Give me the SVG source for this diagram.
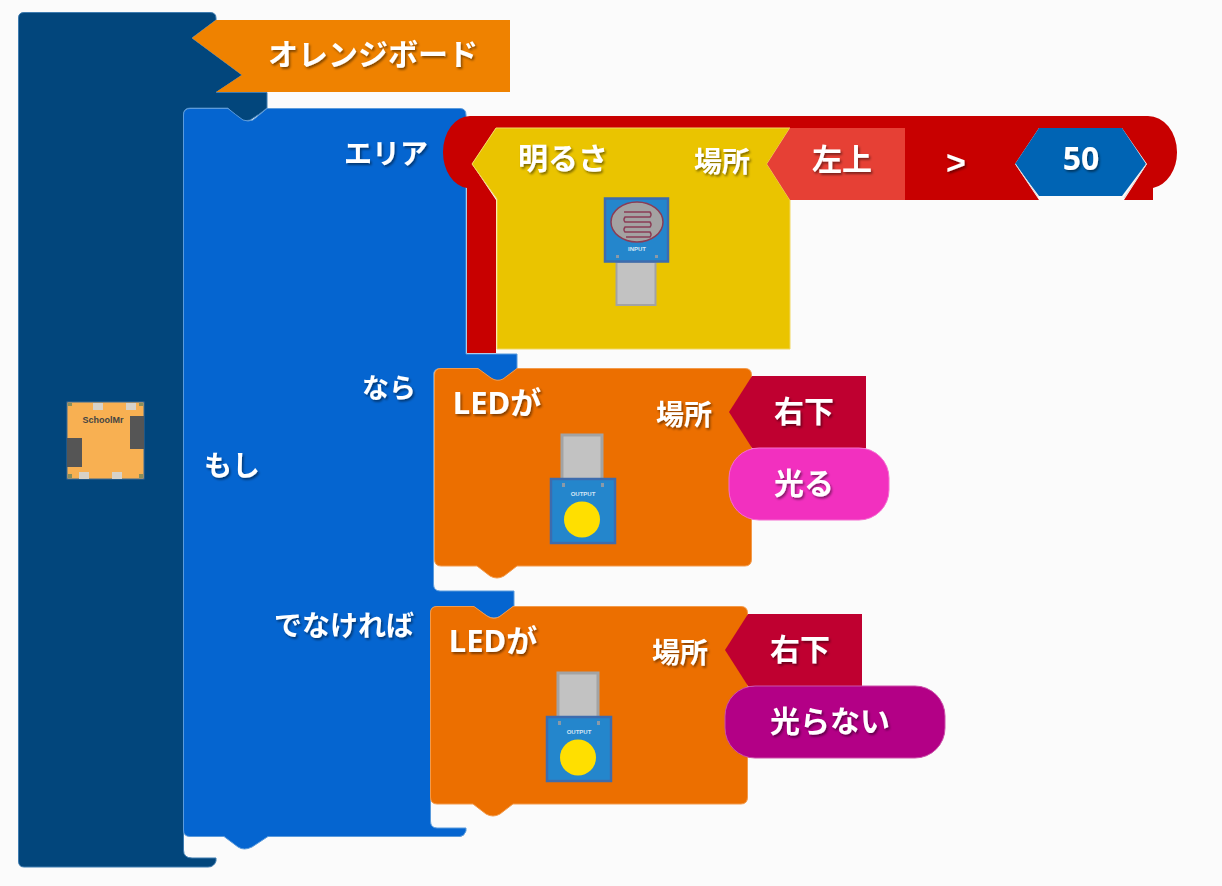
<svg xmlns="http://www.w3.org/2000/svg" width="1222" height="886" viewBox="0 0 1222 886">
<defs>
<filter id="ts" x="-20%" y="-20%" width="140%" height="150%"><feDropShadow dx="1.5" dy="2" stdDeviation="1" flood-color="#000" flood-opacity="0.45"/></filter>
<g id="led">
<rect x="13" y="2" width="40" height="45" fill="#c2c2c2" stroke="#a3a3a3" stroke-width="3"/>
<rect x="2" y="46" width="64" height="64" fill="#2486cc" stroke="#3d6cae" stroke-width="2.500"/>
<rect x="13" y="50" width="3" height="4" fill="#8a9aa8"/><rect x="52" y="50" width="3" height="4" fill="#8a9aa8"/>
<text x="34" y="63" class="tiny">OUTPUT</text>
<circle cx="33" cy="86.500" r="18" fill="#ffdf00"/>
</g>
</defs>
<style>
text{font-family:"Noto Sans","Noto Sans CJK JP",sans-serif;font-weight:700;fill:#fff;filter:url(#ts);text-anchor:middle}
.l{font-size:30px}.m{font-size:28px}.s{font-size:27px}
.tiny{font-size:6px;fill:#d5e6f5;filter:none;font-family:"Liberation Sans",sans-serif}
.b{stroke-width:1;stroke-linejoin:round}
</style>
<rect width="1222" height="886" fill="#fbfbfb"/>
<g id="connectors"/>
<g id="board">
<path class="b" fill="#02467c" stroke="#3f7cb0" d="M24 12.500H210Q216 12.500 216 18V20L192 38L242 75L216 92.500H267V108Q260 114 250 120Q243 122 238 120L228 108H190Q183.500 108 183.500 115V850Q183.500 858 192 858H216V861Q214 867 208 867H24Q18.500 867 18.500 861V18Q18.500 12.500 24 12.500Z"/>
<rect x="67" y="402" width="77" height="77" fill="#f8b052" stroke="#3d6a94" stroke-width="1"/>
<rect x="67" y="438" width="15" height="29" fill="#555"/>
<rect x="130" y="416" width="14" height="33" fill="#555"/>
<rect x="93" y="403" width="10" height="7" fill="#d8d2c8"/><rect x="126" y="403" width="10" height="7" fill="#d8d2c8"/>
<rect x="79" y="472" width="10" height="7" fill="#d8d2c8"/><rect x="112" y="472" width="10" height="7" fill="#d8d2c8"/>
<rect x="68" y="403" width="4" height="3" fill="#8a8f5c"/><rect x="139" y="403" width="4" height="3" fill="#8a8f5c"/>
<rect x="68" y="474" width="4" height="4" fill="#8a8f5c"/><rect x="139" y="474" width="4" height="4" fill="#8a8f5c"/>
<text x="103" y="423" font-size="9" style="fill:#444;filter:none;font-family:'Liberation Sans',sans-serif">SchoolMr</text>
</g>
<g id="orange-board">
<path fill="#ef8200" d="M216 20H510V92H216L242 75L192 38Z"/>
<text x="373" y="65" class="l">オレンジボード</text>
</g>
<g id="if-block">
<path class="b" fill="#0565d0" stroke="#5b9bdc" d="M190 108.500H228Q236 115 243 120Q248 122 253 120L267 108.500H460Q466 108.500 466 115V354H517V369L504 379Q497 383 490 379L477 368.500H440Q433.500 368.500 433.500 375V584Q433.500 591 440 591H514V606L501 616Q494 620 487 616L473 606.500H437Q430.500 606.500 430.500 613V821Q430.500 828 437 828H466V831Q464 836.500 460 836.500H268L252 847Q244 851 238 847L224 836.500H190Q183.500 836.500 183.500 830V115Q183.500 108.500 190 108.500Z"/>
<text x="232" y="476" class="l" style="font-size:28px">もし</text>
<text x="386" y="164" class="m">エリア</text>
<text x="389" y="398" class="s">なら</text>
<text x="344" y="636" class="m">でなければ</text>
</g>
<g id="compare-block">
<path fill="#c80000" d="M470 116H1148A29 36 0 0 1 1177 152A29 36 0 0 1 1153 188V200H1124L1147 164L1122 128H1039L1015 164L1039 200H905V128H496L472 164L496 200V353H467V188A27 36 0 0 1 443 152A27 36 0 0 1 470 116Z"/>
<text x="956" y="174" font-size="34" style="font-family:'Liberation Sans',sans-serif">&gt;</text>
</g>
<g id="value-50">
<path fill="#0064b4" d="M1039 128H1122L1146 164L1122 196H1039L1015 164Z"/>
<path fill="none" stroke="#e8d8d8" stroke-width="1" d="M1015.500 164L1038 197M1146.500 164L1124 198"/>
<text x="1081" y="170" font-size="32">50</text>
</g>
<g id="brightness">
<path fill="#eac400" stroke="#f2d860" stroke-width="1" d="M496 128H790L767 164L790 200V349H497V199L472 164Z"/>
<text x="563" y="169" class="l">明るさ</text>
<text x="722" y="172" class="m">場所</text>
<rect x="616.500" y="262" width="39" height="43" fill="#c2c2c2" stroke="#a3a3a3" stroke-width="2"/>
<rect x="605" y="198.500" width="63" height="63" fill="#2486cc" stroke="#3d6cae" stroke-width="2.500"/>
<ellipse cx="637" cy="222" rx="26" ry="20" fill="#a4a2a2" stroke="#8b3c55" stroke-width="1.500"/>
<path fill="none" stroke="#8b3c55" stroke-width="1.500" d="M624 212H650Q652 214.500 650 217H625Q623 219.500 625 222H650Q652 224.500 650 227H625Q623 229.500 625 232H650Q652 234.500 650 237H626"/>
<text x="637" y="251" class="tiny">INPUT</text>
<rect x="616" y="255" width="3" height="3" fill="#8a9aa8"/><rect x="655" y="255" width="3" height="3" fill="#8a9aa8"/>
</g>
<g id="top-left">
<path fill="#e64035" d="M790 128H905V200H790L767 164Z"/>
<text x="842" y="170" class="l">左上</text>
</g>
<g id="led-1">
<path class="b" fill="#ec6f00" stroke="#f39a4a" d="M441 368.500H478L491 378Q497 382 503 379L517 368.500H745Q751.500 368.500 751.500 375V559Q751.500 566 745 566H517L504 576Q497 580 490 576L477 566H441Q434.500 566 434.500 559V375Q434.500 368.500 441 368.500Z"/>
<text x="497" y="414" class="l" style="font-size:31px">LEDが</text>
<text x="684" y="425" class="m">場所</text>
<use href="#led" transform="translate(549 433)"/>
</g>
<g id="bottom-right-1">
<path fill="#bf0030" d="M752 376H866V448H752L729 412Z"/>
<text x="804" y="422" class="l">右下</text>
</g>
<g id="on">
<rect x="729" y="448" width="160" height="72" rx="30" fill="#f230bf" stroke="#f66dd2" stroke-width="1"/>
<text x="804" y="494" class="l">光る</text>
</g>
<g id="led-2">
<path class="b" fill="#ec6f00" stroke="#f39a4a" d="M437 606.500H474L487 616Q493 620 499 617L513 606.500H741Q747.500 606.500 747.500 613V797Q747.500 804 741 804H513L500 814Q493 818 486 814L473 804H437Q430.500 804 430.500 797V613Q430.500 606.500 437 606.500Z"/>
<text x="493" y="652" class="l" style="font-size:31px">LEDが</text>
<text x="680" y="663" class="m">場所</text>
<use href="#led" transform="translate(545 671)"/>
</g>
<g id="bottom-right-2">
<path fill="#bf0030" d="M748 614H862V686H748L725 650Z"/>
<text x="800" y="660" class="l">右下</text>
</g>
<g id="off">
<rect x="725" y="686" width="220" height="72" rx="30" fill="#b30086" stroke="#cc50aa" stroke-width="1"/>
<text x="830" y="732" class="l">光らない</text>
</g>
</svg>
